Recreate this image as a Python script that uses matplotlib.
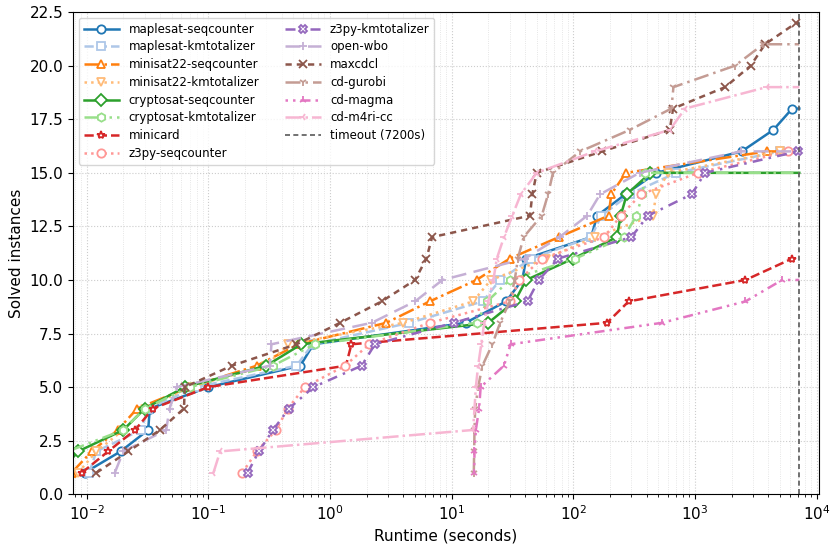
import numpy as np
import matplotlib
matplotlib.use("Agg")
import matplotlib.pyplot as plt

TIMEOUT = 7200

# runtimes (seconds) of solved instances, sorted; y = 1..n
maplesat_seq = [0.0096, 0.019, 0.032, 0.033, 0.1, 0.57, 0.73, 13, 28, 38, 41, 140, 157, 268, 480, 2420, 4400, 6300]
maplesat_km = [0.0105, 0.012, 0.028, 0.032, 0.08, 0.53, 0.72, 4.5, 18, 25, 45, 140, 170, 290, 700, 5000]
minisat_seq = [0.0075, 0.011, 0.018, 0.026, 0.07, 0.25, 0.55, 2.9, 6.6, 16, 30, 76, 195, 205, 270, 3900]
minisat_km = [0.0085, 0.012, 0.02, 0.03, 0.07, 0.3, 0.45, 4, 15, 21, 60, 150, 450, 480, 600, 5000]
crypto_seq = [0.006, 0.0085, 0.02, 0.030, 0.064, 0.3, 0.58, 20, 33, 41, 100, 228, 245, 275, 430]
crypto_km = [0.005, 0.007, 0.020, 0.03, 0.07, 0.34, 0.75, 16, 19.6, 30, 104, 260, 330, 370, 390]
minicard = [0.0091, 0.015, 0.025, 0.035, 0.1, 1.35, 1.5, 189, 285, 2600, 6300]
z3py_seq = [0.19, 0.25, 0.36, 0.45, 0.62, 1.33, 2.1, 6.6, 30, 36, 55, 180, 245, 360, 1060, 5800]
z3py_km = [0.21, 0.26, 0.34, 0.46, 0.73, 1.82, 2.34, 10.4, 42, 52, 75, 300, 410, 940, 1210, 7000]
open_wbo = [0.017, 0.020, 0.045, 0.048, 0.055, 0.32, 0.33, 2.2, 5, 8.4, 40, 77, 130, 166, 350, 2400]
maxcdcl = [0.012, 0.022, 0.04, 0.063, 0.064, 0.156, 0.53, 1.21, 2.66, 5.0, 6.2, 6.9, 44, 46, 50,
           172, 620, 660, 1770, 2870, 3760, 6800]
cd_gurobi = [15.2, 15.3, 15.4, 15.6, 16.5, 17.9, 21.6, 25, 30, 33, 35, 39, 55, 62, 68,
             114, 290, 640, 665, 2130, 3640]
cd_magma = [15.3, 15.4, 15.8, 16.8, 17.3, 26.9, 30.5, 535, 2600, 5200]
cd_m4ri = [0.11, 0.125, 15, 15.4, 15.8, 16.5, 17.5, 18.5, 20, 22, 23.5, 26.9, 31.5, 37, 50,
           150, 620, 830, 3880]

series = [
    ("maplesat-seqcounter", maplesat_seq),
    ("maplesat-kmtotalizer", maplesat_km),
    ("minisat22-seqcounter", minisat_seq),
    ("minisat22-kmtotalizer", minisat_km),
    ("cryptosat-seqcounter", crypto_seq),
    ("cryptosat-kmtotalizer", crypto_km),
    ("minicard", minicard),
    ("z3py-seqcounter", z3py_seq),
    ("z3py-kmtotalizer", z3py_km),
    ("open-wbo", open_wbo),
    ("maxcdcl", maxcdcl),
    ("cd-gurobi", cd_gurobi),
    ("cd-magma", cd_magma),
    ("cd-m4ri-cc", cd_m4ri),
]

colors = plt.cm.tab20.colors
markers = ["o", "s", "^", "v", "D", "h", "*", "o", "X", "+", "x", "1", "2", "3"]
styles = ["-", "--", "-.", ":", "-", (0, (5, 2, 1, 2, 1, 2)), "--", ":",
          (0, (4, 2.5, 1, 2.5)), (0, (6, 3)), (0, (2.5, 2)), (0, (6, 2, 1, 2)),
          (0, (1, 2, 1, 2, 4, 2)), "-."]

fig, ax = plt.subplots(figsize=(8.38, 5.51), dpi=100)
fig.subplots_adjust(left=0.087, right=0.977, top=0.978, bottom=0.103)

for i, (name, times) in enumerate(series):
    x = list(times) + [TIMEOUT]
    y = list(range(1, len(times) + 1)) + [len(times)]
    ax.plot(x, y, linestyle=styles[i], marker=markers[i], color=colors[i],
            markerfacecolor="white", markersize=6, markeredgewidth=1.3,
            linewidth=1.8, markevery=list(range(len(times))), label=name)

ax.axvline(TIMEOUT, color="0.35", linestyle=(0, (3, 2)), linewidth=1.2,
           label="timeout (7200s)")

ax.set_xscale("log")
ax.set_xlim(0.0077, 10400)
ax.set_ylim(0, 22.5)
ax.set_yticks(np.arange(0, 22.6, 2.5))
ax.grid(True, which="major", linestyle=":", color="0.8", linewidth=0.8)
ax.grid(True, which="minor", linestyle=":", color="0.87", linewidth=0.6)
ax.set_xlabel("Runtime (seconds)", fontsize=11)
ax.set_ylabel("Solved instances", fontsize=11)
ax.tick_params(labelsize=11)
ax.legend(ncol=2, loc="upper left", fontsize=8.5, handlelength=3,
          columnspacing=2.2, labelspacing=0.4)

fig.savefig("out.png")
